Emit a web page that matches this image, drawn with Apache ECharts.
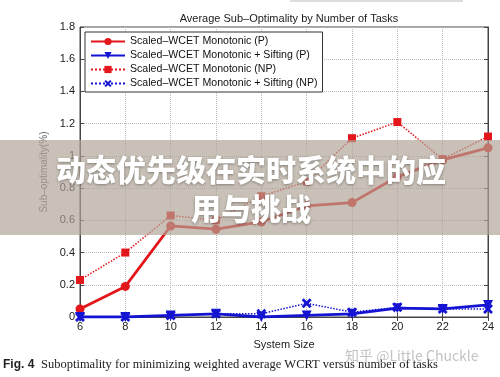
<!DOCTYPE html>
<html>
<head>
<meta charset="utf-8">
<script src="https://cdn.jsdelivr.net/npm/echarts@6/dist/echarts.min.js"></script>
<style>
  html, body { margin: 0; padding: 0; background: #fff; }
  #chart { width: 500px; height: 377px; }
</style>
</head>
<body>
<div id="chart"></div>
<script>
// system sizes on the x axis
var sizes = [6, 8, 10, 12, 14, 16, 18, 20, 22, 24];
// sub-optimality (%)
var monoP = [0.05, 0.19, 0.565, 0.545, 0.59, 0.69, 0.71, 0.87, 0.975, 1.05];
var siftP = [0.0, 0.0, 0.01, 0.02, 0.0, 0.01, 0.02, 0.055, 0.05, 0.075];
var monoNP = [0.23, 0.40, 0.63, 0.60, 0.75, 0.84, 1.11, 1.21, 0.98, 1.12];
var siftNP = [0.0, 0.0, 0.01, 0.02, 0.02, 0.085, 0.03, 0.06, 0.05, 0.05];
var names = [
  'Scaled\u2013WCET Monotonic (P)',
  'Scaled\u2013WCET Monotonic + Sifting (P)',
  'Scaled\u2013WCET Monotonic (NP)',
  'Scaled\u2013WCET Monotonic + Sifting (NP)'
];

function pairs(vals) {
  return sizes.map(function (s, i) { return [s, vals[i]]; });
}

var RED = '#e3161b';
var BLUE = '#1414d2';
var crossPath = 'path://M0,2 L2,0 L5,3 L8,0 L10,2 L7,5 L10,8 L8,10 L5,7 L2,10 L0,8 L3,5 Z';
var font = 'Liberation Sans';

var chart = echarts.init(document.getElementById('chart'));

chart.setOption({
  animation: false,
  textStyle: { fontFamily: font },
  title: {
    text: 'Average Sub\u2013Optimality by Number of Tasks',
    left: 284,
    textAlign: 'center',
    top: 8,
    textStyle: { fontSize: 11, fontWeight: 'normal', color: '#222', fontFamily: font }
  },
  grid: { left: 80, right: 12, top: 27, bottom: 60, show: true, borderColor: '#444', borderWidth: 1 },
  legend: {
    orient: 'vertical',
    left: 85,
    top: 32,
    itemGap: 3,
    itemWidth: 34,
    itemHeight: 9,
    padding: [4, 5, 3, 5],
    borderColor: '#333',
    borderWidth: 1,
    backgroundColor: '#fff',
    data: names,
    textStyle: { fontSize: 10.6, color: '#111', fontFamily: font }
  },
  xAxis: [{
    type: 'value', min: 6, max: 24, interval: 2,
    name: 'System Size', nameLocation: 'middle', nameGap: 22,
    nameTextStyle: { fontSize: 11, color: '#222' },
    axisLine: { lineStyle: { color: '#444' } },
    axisTick: { inside: true, length: 4, lineStyle: { color: '#444' } },
    axisLabel: { fontSize: 11, color: '#222', margin: 4 },
    splitLine: { show: true, lineStyle: { type: 'dotted', color: '#bbb' } }
  }, {
    type: 'value', min: 6, max: 24, interval: 2, position: 'top',
    axisLine: { lineStyle: { color: '#444' } },
    axisTick: { inside: true, length: 4, lineStyle: { color: '#444' } },
    axisLabel: { show: false }, splitLine: { show: false }
  }],
  yAxis: [{
    type: 'value', min: 0, max: 1.8, interval: 0.2,
    name: 'Sub\u2013optimality(%)', nameLocation: 'middle', nameGap: 30,
    nameTextStyle: { fontSize: 10, color: '#666' },
    axisLine: { show: true, lineStyle: { color: '#444' } },
    axisTick: { show: true, inside: true, length: 4, lineStyle: { color: '#444' } },
    axisLabel: { fontSize: 11, color: '#222', margin: 5 },
    splitLine: { show: true, lineStyle: { type: 'dotted', color: '#bbb' } }
  }, {
    type: 'value', min: 0, max: 1.8, interval: 0.2, position: 'right',
    axisLine: { show: true, lineStyle: { color: '#444' } },
    axisTick: { show: true, inside: true, length: 4, lineStyle: { color: '#444' } },
    axisLabel: { show: false }, splitLine: { show: false }
  }],
  series: [
    {
      name: names[2], type: 'line', data: pairs(monoNP),
      symbol: 'rect', symbolSize: 8,
      lineStyle: { color: RED, width: 1.5, type: 'dotted' },
      itemStyle: { color: RED }
    },
    {
      name: names[3], type: 'line', data: pairs(siftNP),
      symbol: crossPath, symbolSize: 10,
      lineStyle: { color: BLUE, width: 1.5, type: 'dotted' },
      itemStyle: { color: BLUE }
    },
    {
      name: names[0], type: 'line', data: pairs(monoP),
      symbol: 'circle', symbolSize: 9,
      lineStyle: { color: RED, width: 2.8 },
      itemStyle: { color: RED }
    },
    {
      name: names[1], type: 'line', data: pairs(siftP),
      symbol: 'triangle', symbolRotate: 180, symbolSize: 10,
      lineStyle: { color: BLUE, width: 2.8 },
      itemStyle: { color: BLUE }
    }
  ],
  graphic: [
    {
      type: 'rect', z: 100, silent: true,
      shape: { x: 290, y: 0, width: 173, height: 2 },
      style: { fill: '#ddd' }
    },
    {
      type: 'rect', z: 100, silent: true,
      shape: { x: 0, y: 140, width: 500, height: 95 },
      style: { fill: 'rgba(175,164,149,0.68)' }
    },
    {
      type: 'text', z: 101, silent: true, x: 251, y: 170,
      style: {
        text: '动态优先级在实时系统中的应', fill: '#fff',
        font: '900 30px "Noto Sans CJK SC"', align: 'center', verticalAlign: 'middle',
        textShadowColor: 'rgba(0,0,0,0.35)', textShadowBlur: 3, textShadowOffsetY: 1
      }
    },
    {
      type: 'text', z: 101, silent: true, x: 251, y: 209,
      style: {
        text: '用与挑战', fill: '#fff',
        font: '900 30px "Noto Sans CJK SC"', align: 'center', verticalAlign: 'middle',
        textShadowColor: 'rgba(0,0,0,0.35)', textShadowBlur: 3, textShadowOffsetY: 1
      }
    },
    {
      type: 'text', z: 101, silent: true, x: 345, y: 356,
      style: {
        text: '知乎 @Little Chuckle', fill: 'rgba(185,185,185,0.85)',
        font: '14px "Noto Sans CJK SC"', verticalAlign: 'middle'
      }
    },
    {
      type: 'text', z: 100, silent: true, x: 3, y: 365,
      style: {
        text: '{b|Fig. 4}  {s|Suboptimality for minimizing weighted average WCRT versus number of tasks}',
        verticalAlign: 'middle',
        rich: {
          b: { font: 'bold 12px "Liberation Sans"', fill: '#222' },
          s: { font: '12.5px "Liberation Serif"', fill: '#222' }
        }
      }
    }
  ]
});
</script>
</body>
</html>
